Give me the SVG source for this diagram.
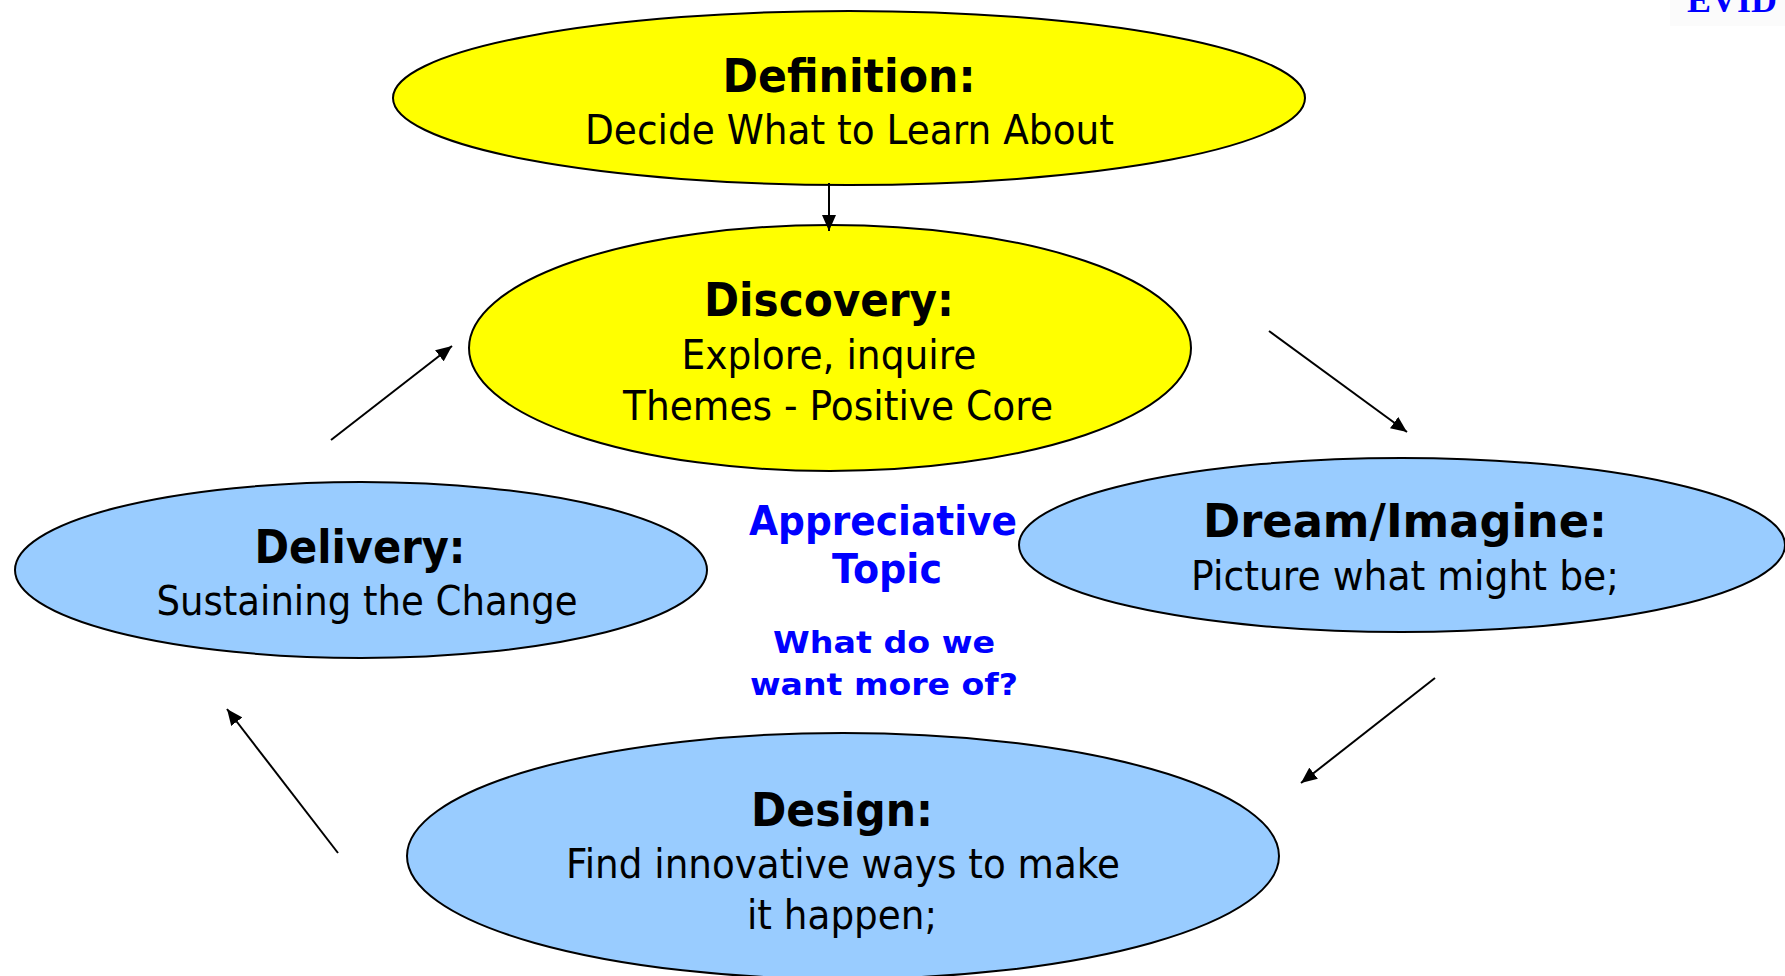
<svg xmlns="http://www.w3.org/2000/svg" width="1785" height="976" viewBox="0 0 1785 976">
  <style>
    .yel { fill: #ffff00; stroke: #000; stroke-width: 2; }
    .blu { fill: #99ccff; stroke: #000; stroke-width: 2; }
    text { font-family: "DejaVu Sans", Verdana, sans-serif; text-anchor: middle; fill: #000; }
    .title { font-size: 46px; font-weight: bold; }
    .body { font-size: 40px; }
    .topic { font-size: 41px; font-weight: bold; fill: #0000ff; }
    .ask { font-size: 31px; font-weight: bold; fill: #0000ff; }
    .edge { stroke: #000; stroke-width: 2; fill: none; marker-end: url(#head); }
  </style>
  <defs>
    <marker id="head" markerUnits="userSpaceOnUse" markerWidth="17" markerHeight="14" refX="16" refY="7" orient="auto">
      <path d="M0,0 L16,7 L0,14 z" fill="#000"/>
    </marker>
  </defs>
  <rect width="1785" height="976" fill="#fff"/>

  <!-- header fragment, top right -->
  <g id="header">
    <rect x="1670" y="0" width="115" height="26" fill="#fbfbfb"/>
    <text x="1687" y="12" style="font-family:'Liberation Serif','Times New Roman',serif;font-size:36px;font-weight:bold;fill:#0000ff;text-anchor:start">EVID</text>
  </g>

  <g id="definition">
    <ellipse class="yel" cx="849" cy="98" rx="456" ry="87"/>
    <text class="title" x="849" y="92" textLength="253" lengthAdjust="spacingAndGlyphs">Definition:</text>
    <text class="body" x="849.5" y="144" textLength="529" lengthAdjust="spacingAndGlyphs">Decide What to Learn About</text>
  </g>

  <g id="discovery">
    <ellipse class="yel" cx="830" cy="348" rx="361" ry="123"/>
    <text class="title" x="829" y="316" textLength="250" lengthAdjust="spacingAndGlyphs">Discovery:</text>
    <text class="body" x="829" y="369" textLength="295" lengthAdjust="spacingAndGlyphs">Explore, inquire</text>
    <text class="body" x="838" y="420" textLength="430" lengthAdjust="spacingAndGlyphs">Themes - Positive Core</text>
  </g>

  <g id="dream">
    <ellipse class="blu" cx="1402" cy="545" rx="383" ry="87"/>
    <text class="title" x="1405" y="537" textLength="404" lengthAdjust="spacingAndGlyphs">Dream/Imagine:</text>
    <text class="body" x="1405" y="590" textLength="428" lengthAdjust="spacingAndGlyphs">Picture what might be;</text>
  </g>

  <g id="delivery">
    <ellipse class="blu" cx="361" cy="570" rx="346" ry="88"/>
    <text class="title" x="360" y="563" textLength="211" lengthAdjust="spacingAndGlyphs">Delivery:</text>
    <text class="body" x="367" y="615" textLength="421" lengthAdjust="spacingAndGlyphs">Sustaining the Change</text>
  </g>

  <g id="design">
    <ellipse class="blu" cx="843" cy="856" rx="436" ry="123"/>
    <text class="title" x="842" y="826" textLength="182" lengthAdjust="spacingAndGlyphs">Design:</text>
    <text class="body" x="843" y="878" textLength="554" lengthAdjust="spacingAndGlyphs">Find innovative ways to make</text>
    <text class="body" x="842" y="929" textLength="190" lengthAdjust="spacingAndGlyphs">it happen;</text>
  </g>

  <g id="topic">
    <text class="topic" x="883" y="535" textLength="268" lengthAdjust="spacingAndGlyphs">Appreciative</text>
    <text class="topic" x="887" y="583" textLength="110" lengthAdjust="spacingAndGlyphs">Topic</text>
    <text class="ask" x="884" y="653" textLength="222" lengthAdjust="spacingAndGlyphs">What do we</text>
    <text class="ask" x="884" y="695" textLength="268" lengthAdjust="spacingAndGlyphs">want more of?</text>
  </g>

  <g id="connectors">
    <line class="edge" x1="829" y1="183" x2="829" y2="231"/>
    <line class="edge" x1="1269" y1="331" x2="1407" y2="432"/>
    <line class="edge" x1="1435" y1="678" x2="1301" y2="783"/>
    <line class="edge" x1="338" y1="853" x2="227" y2="709"/>
    <line class="edge" x1="331" y1="440" x2="452" y2="346"/>
  </g>
</svg>
